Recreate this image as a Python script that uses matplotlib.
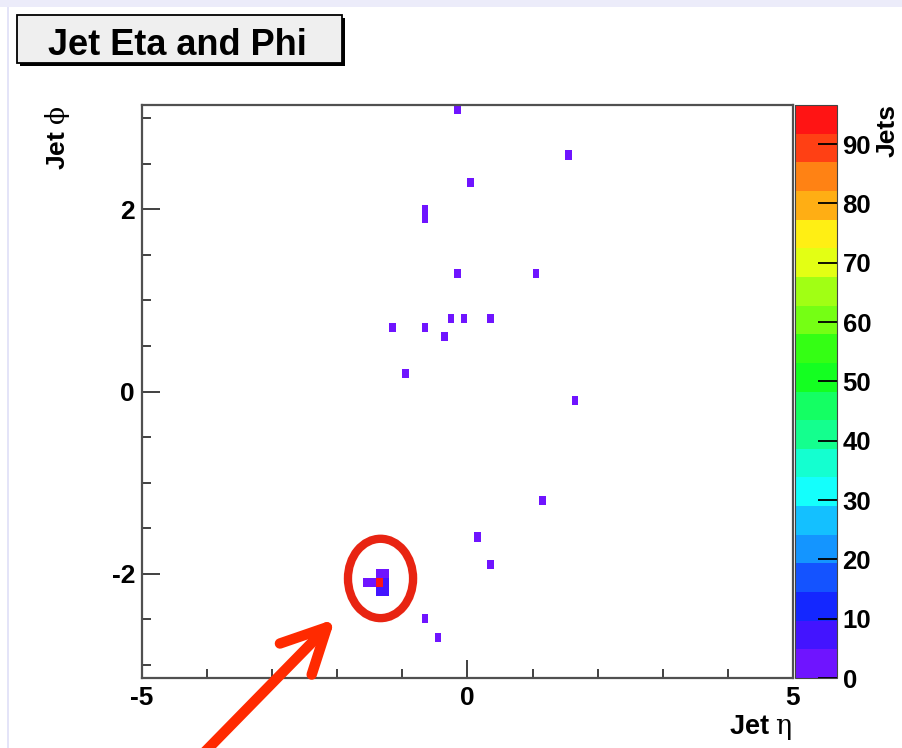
import numpy as np
import matplotlib
matplotlib.use("Agg")
import matplotlib.pyplot as plt
from matplotlib.colors import ListedColormap, BoundaryNorm
from matplotlib.patches import Rectangle, Ellipse, FancyArrowPatch, ArrowStyle
from matplotlib.ticker import MultipleLocator, FixedLocator
import colorsys

plt.rcParams['font.family'] = ['Liberation Sans', 'DejaVu Sans']
plt.rcParams['axes.unicode_minus'] = False
plt.rcParams['mathtext.fontset'] = 'custom'
plt.rcParams['mathtext.rm'] = 'DejaVu Serif'

# ---------------- data (bin centres and contents) ----------------
jet_eta = [-0.15, 1.55, 0.05, -0.65, -0.65, -0.15, 1.05, -0.25, -0.05, 0.35,
           -1.15, -0.65, -0.35, -0.95, 1.65, 1.15, 0.15, 0.35,
           -1.35, -1.25, -1.55, -1.45, -1.35, -1.25, -1.35, -1.25,
           -0.65, -0.45]
jet_phi = [3.09, 2.59, 2.29, 1.99, 1.89, 1.30, 1.30, 0.80, 0.80, 0.80,
           0.70, 0.70, 0.60, 0.20, -0.10, -1.20, -1.60, -1.89,
           -1.99, -1.99, -2.09, -2.09, -2.09, -2.09, -2.19, -2.19,
           -2.49, -2.69]
jet_counts = [1, 1, 1, 1, 1, 1, 1, 1, 1, 1,
              1, 1, 1, 1, 1, 1, 1, 1,
              2, 2, 2, 2, 92, 8, 8, 8,
              1, 1]

eta_range = (-5.0, 5.0)
phi_range = (-np.pi, np.pi)
n_eta_bins = 100
n_phi_bins = 63
colorbar_ticks = [0, 10, 20, 30, 40, 50, 60, 70, 80, 90]
x_major_ticks = [-5, 0, 5]
y_major_ticks = [-2, 0, 2]

title_text = "Jet Eta and Phi"
x_title = r"Jet $\mathrm{\eta}$"
y_title = r"Jet $\mathrm{\phi}$"
z_title = "Jets"

# ---------------- figure ----------------
W, H = 903, 748
fig = plt.figure(figsize=(W / 100, H / 100), dpi=100)
fig.patch.set_facecolor('white')


def fx(x):
    return x / W


def fy(y):
    return 1 - y / H


# screenshot border
fig.patches.append(Rectangle((0, fy(7)), 1, 7 / H, transform=fig.transFigure,
                             facecolor='#ececfa', edgecolor='none', zorder=0))
fig.patches.append(Rectangle((fx(7), 0), 1.5 / W, fy(7), transform=fig.transFigure,
                             facecolor='#e4e4f8', edgecolor='none', zorder=0))

ax_l, ax_r, ax_t, ax_b = 142, 793, 105, 678
ax = fig.add_axes([fx(ax_l), fy(ax_b), (ax_r - ax_l) / W, (ax_b - ax_t) / H])
cax = fig.add_axes([fx(795), fy(ax_b), 42 / W, (ax_b - ax_t) / H])

# ROOT "pretty" palette with 20 contour levels
ncol, ndivz = 50, 20
pal = []
for j in range(ndivz):
    idx = int((j + 0.99) * ncol / ndivz)
    hue = 280 - (idx + 1) * 5.6
    r, g, b = colorsys.hls_to_rgb(hue / 360.0, 0.5, 1.0)
    # slight wash as in the screenshot
    pal.append((r + (1 - r) * 0.08, g + (1 - g) * 0.08, b + (1 - b) * 0.08))
cmap = ListedColormap(pal)
zmax = 1.05 * max(jet_counts)
levels = np.linspace(0, zmax, ndivz + 1)
norm = BoundaryNorm(levels, cmap.N)

eta_edges = np.linspace(eta_range[0], eta_range[1], n_eta_bins + 1)
phi_edges = np.linspace(phi_range[0], phi_range[1], n_phi_bins + 1)
hist, _, _ = np.histogram2d(jet_eta, jet_phi, bins=[eta_edges, phi_edges],
                            weights=jet_counts)
hist = np.ma.masked_where(hist <= 0, hist)
mesh = ax.pcolormesh(eta_edges, phi_edges, hist.T, cmap=cmap, norm=norm,
                     edgecolors='none', antialiased=False)

ax.set_xlim(*eta_range)
ax.set_ylim(*phi_range)
for s in ax.spines.values():
    s.set_color('#505050')
    s.set_linewidth(1.6)
ax.xaxis.set_major_locator(FixedLocator(x_major_ticks))
ax.xaxis.set_minor_locator(MultipleLocator(1))
ax.yaxis.set_major_locator(FixedLocator(y_major_ticks))
ax.yaxis.set_minor_locator(MultipleLocator(0.5))
ax.tick_params(which='both', direction='in', top=False, right=False,
               color='#404040', width=1.4)
ax.tick_params(which='major', length=13, labelsize=19)
ax.tick_params(which='minor', length=6.5)
ax.tick_params(axis='x', which='major', pad=6)
ax.tick_params(axis='y', which='major', pad=5)
for lab in ax.get_xticklabels() + ax.get_yticklabels():
    lab.set_fontweight('bold')

cb = fig.colorbar(mesh, cax=cax, ticks=colorbar_ticks)
cb.outline.set_edgecolor('#444444')
cb.outline.set_linewidth(0.8)
cax.tick_params(direction='in', length=14, width=1.3, color='black',
                labelsize=18.5, pad=4)
cax.minorticks_off()
for lab in cax.get_yticklabels():
    lab.set_fontweight('bold')

# axis titles
fig.text(fx(792), fy(734), x_title, ha='right', va='baseline',
         fontsize=19.5, fontweight='bold')
fig.text(fx(65), fy(106), y_title, rotation=90, rotation_mode='anchor',
         ha='right', va='baseline', fontsize=19, fontweight='bold')
fig.text(fx(895), fy(104), z_title, rotation=90, rotation_mode='anchor',
         ha='right', va='baseline', fontsize=19, fontweight='bold')

# title box with shadow
fig.patches.append(Rectangle((fx(20), fy(66)), 325 / W, 48 / H,
                             transform=fig.transFigure, facecolor='black',
                             edgecolor='none', zorder=5))
fig.patches.append(Rectangle((fx(17), fy(63)), 325 / W, 48 / H,
                             transform=fig.transFigure, facecolor='#efefef',
                             edgecolor='black', linewidth=1.3, zorder=6))
fig.text(fx(177), fy(55), title_text, ha='center', va='baseline',
         fontsize=26, fontweight='bold', zorder=7)

# red annotation: ellipse and arrow
ell = Ellipse((-1.336, -2.05), 1.0, 0.87, fill=False, edgecolor='#e82412',
              linewidth=6, clip_on=False, zorder=10)
ax.add_patch(ell)
arrow = FancyArrowPatch((fx(192), fy(765)), (fx(337), fy(617)),
                        transform=fig.transFigure,
                        arrowstyle=ArrowStyle('->', head_length=32, head_width=16),
                        mutation_scale=1, color='#ff2a00', linewidth=7.5,
                        capstyle='round', joinstyle='round', zorder=10)
fig.patches.append(arrow)

fig.savefig('out.png', dpi=100)
